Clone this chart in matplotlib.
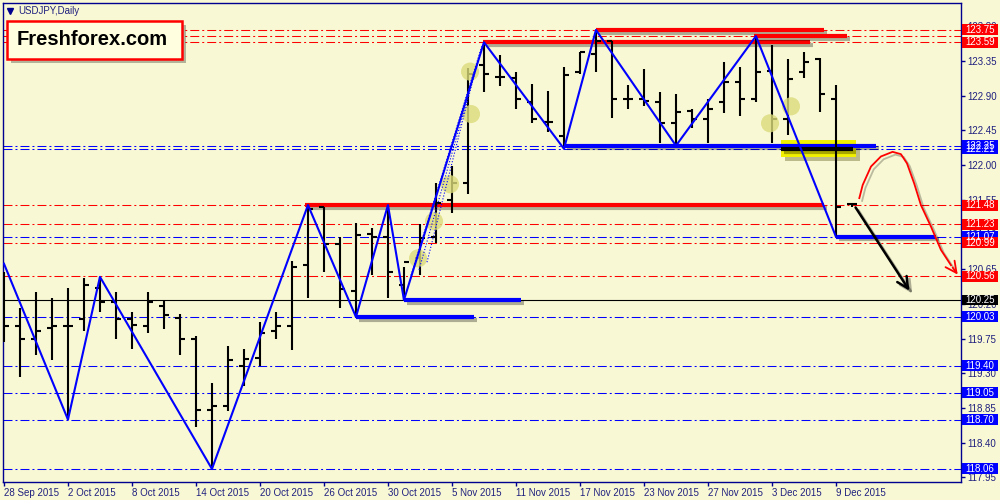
import matplotlib
matplotlib.use('Agg')
import matplotlib.pyplot as plt
import matplotlib.patheffects as pe
import matplotlib.transforms as mtransforms
from matplotlib.patches import Rectangle
import numpy as np
import pandas as pd

plt.rcParams['font.family'] = ['Liberation Sans', 'DejaVu Sans']

# datos diarios USDJPY
dates = pd.bdate_range('2015-09-28', periods=54)
opens = [120.00, 119.91, 119.75, 119.89, 119.91, 120.01, 120.40, 120.22, 120.00, 119.91,
         120.17, 120.02, 119.74, 118.83, 118.87, 119.39, 119.50, 119.85, 119.91, 120.70,
         121.46, 120.98, 120.37, 121.10, 121.06, 120.44, 120.79, 121.07, 121.55, 121.76,
         123.30, 123.14, 123.13, 122.82, 122.56, 122.37, 123.20, 123.44, 123.61, 122.86,
         122.86, 122.82, 122.54, 122.70, 122.60, 122.82, 123.07, 122.85, 123.22, 122.59,
         123.21, 123.37, 122.86, 121.49]
highs = [120.61, 120.15, 120.35, 120.27, 120.40, 120.54, 120.55, 120.35, 120.10, 120.35,
         120.24, 120.07, 119.78, 119.17, 119.65, 119.61, 119.96, 120.09, 120.76, 121.48,
         121.46, 121.07, 121.25, 121.18, 121.47, 120.68, 121.23, 121.77, 121.99, 123.26,
         123.59, 123.43, 123.21, 123.05, 122.96, 123.27, 123.47, 123.75, 123.61, 123.03,
         123.25, 122.95, 122.92, 122.73, 122.86, 123.33, 123.27, 123.67, 123.55, 123.37,
         123.47, 123.38, 123.04, 121.51]
lows = [119.70, 119.25, 119.54, 119.47, 118.70, 119.85, 120.09, 119.74, 119.62, 119.82,
        119.88, 119.54, 118.61, 118.06, 118.81, 119.13, 119.39, 119.75, 119.60, 120.28,
        120.61, 120.15, 120.03, 120.57, 120.27, 120.25, 120.58, 120.99, 121.38, 121.62,
        122.95, 123.02, 122.73, 122.55, 122.43, 122.21, 123.18, 123.20, 122.61, 122.72,
        122.77, 122.29, 122.25, 122.48, 122.29, 122.67, 122.63, 122.81, 122.29, 122.39,
        123.13, 122.69, 121.07, 121.46]
closes = [119.91, 119.74, 119.85, 119.91, 119.91, 120.45, 120.23, 120.00, 119.92, 120.23,
          120.05, 119.75, 118.82, 118.88, 119.47, 119.49, 119.82, 119.91, 120.68, 121.43,
          120.98, 120.39, 121.09, 121.06, 120.61, 120.74, 121.05, 121.51, 121.76, 123.18,
          123.18, 123.14, 122.85, 122.60, 122.56, 123.16, 123.46, 123.61, 122.86, 122.86,
          122.83, 122.54, 122.68, 122.60, 122.73, 123.08, 122.86, 123.21, 122.60, 123.12,
          123.34, 122.92, 121.45, 121.49]

# zigzag
zz_idx = [0, 4, 6, 13, 19, 22, 24, 25, 30, 35, 37, 42, 47, 52]
zz_price = [120.72, 118.70, 120.55, 118.06, 121.48, 120.03, 121.48, 120.25,
            123.59, 122.21, 123.75, 122.25, 123.67, 121.07]

# niveles horizontales
red_levels = [123.75, 123.67, 123.59, 121.48, 121.23, 120.99, 120.56]
blue_levels = [122.25, 122.21, 121.07, 120.03, 119.40, 119.05, 118.70, 118.06]
black_level = 120.25

# etiquetas de precio a la derecha (orden de dibujo)
label_values = [123.75, 123.59, 122.21, 122.25, 121.48, 121.23, 121.07, 120.99,
                120.56, 120.25, 120.03, 119.40, 119.05, 118.70, 118.06]
label_colors = ['red', 'red', 'blue', 'blue', 'red', 'red', 'blue', 'red',
                'red', 'black', 'blue', 'blue', 'blue', 'blue', 'blue']

# segmentos gruesos: nivel, inicio, fin (indice de barra)
seg_level = [121.48, 123.59, 123.75, 123.67, 122.25, 121.07, 120.25, 120.03, 122.21]
seg_start = [18.8, 29.94, 37.0, 46.9, 35.0, 52.0, 25.0, 22.0, 48.56]
seg_end = [51.25, 50.4, 51.25, 52.7, 54.5, 58.25, 32.3, 29.4, 53.06]
seg_color = ['red', 'red', 'red', 'red', 'blue', 'blue', 'blue', 'blue', 'black']

# marcas amarillas
circ_idx = [29.13, 29.19, 27.88, 26.88, 25.88, 47.88, 49.19]
circ_price = [123.21, 122.66, 121.75, 121.27, 120.79, 122.54, 122.76]

# lineas punteadas
dot_x0 = [25.44, 25.94, 26.44]
dot_y0 = [120.57, 120.64, 120.74]
dot_x1 = [29.88, 29.69, 29.44]
dot_y1 = [123.55, 123.39, 123.21]

# curva roja y flecha negra
curve_idx = [53.46, 53.67, 54.19, 54.81, 55.54, 56.06, 56.44, 56.89, 57.31, 57.94, 58.56, 59.19, 59.71]
curve_price = [121.57, 121.74, 121.98, 122.11, 122.17, 122.14, 122.02, 121.76, 121.48, 121.20,
               120.90, 120.70, 120.55]
arrow_start = (53.13, 121.48)
arrow_end = (56.69, 120.34)

bg = '#f8f8d4'
navy = '#000090'
dashdot = (0, (8.6, 2.9, 1.9, 2.9))

fig = plt.figure(figsize=(10, 5), dpi=100, facecolor=bg)
ax = fig.add_axes([0.003, 0.036, 0.958, 0.958])
ax.set_facecolor(bg)
ax.set_xlim(-0.06, 59.815)
ax.set_ylim(117.891, 124.099)

for v in red_levels:
    ax.axhline(v, color='red', lw=0.75, ls=dashdot, zorder=1)
for v in blue_levels:
    ax.axhline(v, color='blue', lw=0.75, ls=dashdot, zorder=1)
ax.axhline(black_level, color='black', lw=0.8, zorder=1)

# rectangulo amarillo
ax.add_patch(Rectangle((48.56, 122.10), 4.69, 0.22, fc='#f0f000', ec='none', zorder=1.5,
                       path_effects=[pe.withSimplePatchShadow(offset=(3, -3), alpha=0.35)]))

shadow = [pe.SimpleLineShadow(offset=(2, -2), alpha=0.3), pe.Normal()]
for lv, s, e, c in zip(seg_level, seg_start, seg_end, seg_color):
    ax.plot([s, e], [lv, lv], color=c, lw=3, solid_capstyle='butt', zorder=2, path_effects=shadow)

x = np.arange(len(dates))
ax.vlines(x, lows, highs, color='black', lw=1.5, zorder=3)
ax.hlines(opens, x - 0.34, x, color='black', lw=1.5, zorder=3)
ax.hlines(closes, x, x + 0.34, color='black', lw=1.5, zorder=3)

ax.scatter(circ_idx, circ_price, s=170, color='#dcdc7c', alpha=0.8, edgecolors='none', zorder=3.5)

for a, b, c, d in zip(dot_x0, dot_y0, dot_x1, dot_y1):
    ax.plot([a, c], [b, d], color='blue', lw=0.8, ls=':', zorder=3.6)

ax.plot(zz_idx, zz_price, color='blue', lw=1.5, zorder=4)

ax.plot(curve_idx[:-1], curve_price[:-1], color='red', lw=1.3, zorder=4,
        path_effects=[pe.SimpleLineShadow(offset=(2, -2), alpha=0.25), pe.Normal()])
ax.annotate('', xy=(curve_idx[-1], curve_price[-1]), xytext=(curve_idx[-2], curve_price[-2]),
            arrowprops=dict(arrowstyle='->,head_length=0.8,head_width=0.4', color='red', lw=1.3), zorder=4)
ax.annotate('', xy=arrow_end, xytext=arrow_start,
            arrowprops=dict(arrowstyle='->,head_length=0.8,head_width=0.4', color='black', lw=1.8,
                            path_effects=[pe.SimpleLineShadow(offset=(2, -2), alpha=0.3), pe.Normal()]),
            zorder=4)

# ejes
for sp in ax.spines.values():
    sp.set_color(navy)
    sp.set_linewidth(1)
ax.yaxis.tick_right()
yt = [round(117.95 + 0.45 * k, 2) for k in range(14)]
ax.set_yticks(yt)
ax.set_yticklabels([f'{v:.2f}' for v in yt])
ax.tick_params(axis='y', colors=navy, labelsize=7, length=3, width=1, pad=1.5, labelcolor='#202080')
ax.set_xticks(x[::4])
ax.set_xticklabels([f"{d.day} {d.strftime('%b %Y')}" for d in dates[::4]])
for lbl in ax.get_xticklabels():
    lbl.set_ha('left')
ax.tick_params(axis='x', colors=navy, labelsize=7, length=3, width=1, pad=1.5, labelcolor='#202080')

trans = mtransforms.blended_transform_factory(ax.transAxes, ax.transData)
for v, c in zip(label_values, label_colors):
    ax.add_patch(Rectangle((1.0012, v - 0.071), 0.0376, 0.142, transform=trans, fc=c, ec='none',
                           clip_on=False, zorder=6))
    ax.text(1.0012 + 0.0188, v, f'{v:.2f}', transform=trans, color='white', fontsize=7,
            ha='center', va='center', zorder=7, clip_on=False)

ax.plot([0.0073], [0.983], marker='v', ms=4, color=navy, transform=ax.transAxes, clip_on=False)
ax.text(0.0157, 0.983, 'USDJPY,Daily', transform=ax.transAxes, fontsize=7, color='#202080', va='center')

ax.add_patch(Rectangle((0.0042, 0.8831), 0.1826, 0.0793, transform=ax.transAxes, fc='#ffffe0',
                       ec='red', lw=1.8, zorder=8,
                       path_effects=[pe.withSimplePatchShadow(offset=(3, -3), alpha=0.4)]))
ax.text(0.0929, 0.9228, 'Freshforex.com', transform=ax.transAxes, fontsize=14.5, weight='bold',
        ha='center', va='center', color='black', zorder=9)

fig.savefig('out.png', dpi=100, facecolor=bg)
